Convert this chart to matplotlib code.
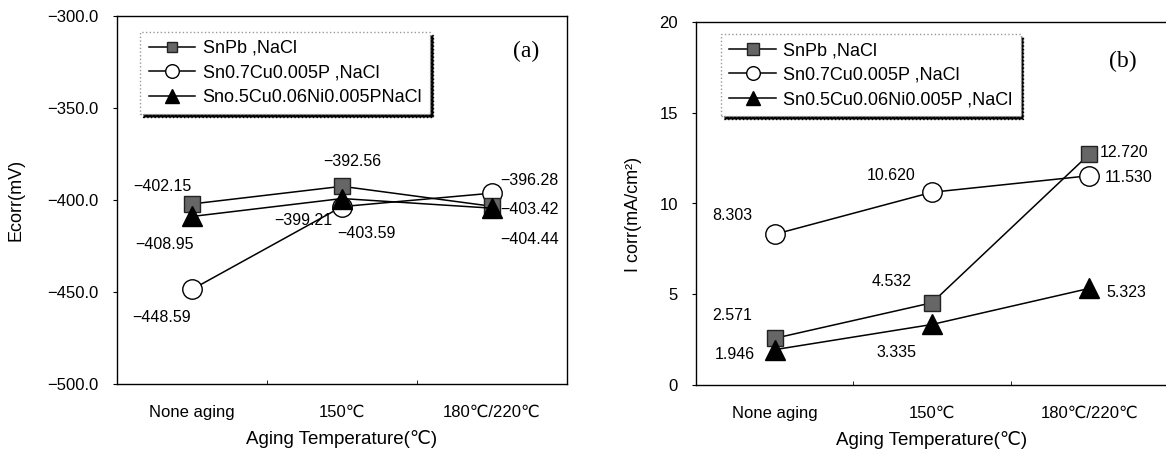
import numpy as np
import matplotlib.pyplot as plt

plt.rcParams['font.family'] = ['Liberation Sans', 'DejaVu Sans']
plt.rcParams['xtick.direction'] = 'out'
plt.rcParams['ytick.direction'] = 'out'

# data
categories = ['None aging', '150℃', '180℃/220℃']
ecorr_snpb = [-402.15, -392.56, -403.42]
ecorr_sncup = [-448.59, -403.59, -396.28]
ecorr_sncunip = [-408.95, -399.21, -404.44]
icorr_snpb = [2.571, 4.532, 12.720]
icorr_sncup = [8.303, 10.620, 11.530]
icorr_sncunip = [1.946, 3.335, 5.323]

names_a = ['SnPb ,NaCl', 'Sn0.7Cu0.005P ,NaCl', 'Sno.5Cu0.06Ni0.005PNaCl']
names_b = ['SnPb ,NaCl', 'Sn0.7Cu0.005P ,NaCl', 'Sn0.5Cu0.06Ni0.005P ,NaCl']

# label offsets in pixels (dx, dy, ha)
offs_a = [
    [(-30, 17, 'center'), (10, 25, 'center'), (8, -3, 'left')],
    [(-30, -28, 'center'), (24, -27, 'center'), (8, 13, 'left')],
    [(-28, -28, 'center'), (-39, -22, 'center'), (8, -31, 'left')],
]
offs_b = [
    [(-42, 23, 'center'), (-40, 21, 'center'), (10, 2, 'left')],
    [(-42, 19, 'center'), (-41, 17, 'center'), (15, -2, 'left')],
    [(-40, -5, 'center'), (-36, -28, 'center'), (17, -4, 'left')],
]

styles = [
    dict(marker='s', mfc='#666666', mec='#222222', zorder=3),
    dict(marker='o', mfc='white', mec='black', zorder=2),
    dict(marker='^', mfc='black', mec='black', zorder=4),
]

fig = plt.figure(figsize=(11.66, 4.57), dpi=100)
W, H = 1166, 457
ax1 = fig.add_axes([117 / W, 1 - 384 / H, 450 / W, 368 / H])
ax2 = fig.add_axes([696 / W, 1 - 385 / H, 472 / W, 363 / H])

x = np.arange(len(categories))


def setup(ax):
    ax.set_xlim(-0.5, 2.5)
    ax.set_xticks(x)
    ax.set_xticklabels(categories, fontsize=12)
    ax.set_xticks([0.5, 1.5], minor=True)
    ax.tick_params(axis='x', which='major', length=0, pad=15)
    ax.tick_params(axis='x', which='minor', length=3, direction='in')
    ax.tick_params(axis='y', length=3, labelsize=12, pad=10)
    for s in ax.spines.values():
        s.set_linewidth(1.0)
    ax.set_xlabel('Aging Temperature(℃)', fontsize=13.5, labelpad=7)


def legend(ax, anchor):
    leg = ax.legend(loc='upper left', bbox_to_anchor=anchor, borderaxespad=0,
                    fontsize=13, markerscale=0.7, handlelength=2.6, handletextpad=0.4,
                    labelspacing=0.42, borderpad=0.45,
                    fancybox=False, edgecolor='#999999', framealpha=1,
                    shadow={'facecolor': 'black', 'edgecolor': 'black', 'alpha': 1})
    leg.get_frame().set_linestyle(':')
    return leg


# (a)
sizes_a = [11, 14, 14]
for vals, name, st, ms, offs in zip([ecorr_snpb, ecorr_sncup, ecorr_sncunip],
                                    names_a, styles, sizes_a, offs_a):
    ax1.plot(x, vals, color='black', lw=1.1, ms=ms, mew=1.0, label=name, **st)
    for xi, v, (dx, dy, ha) in zip(x, vals, offs):
        ax1.annotate(f'{v:.2f}'.replace('-', '−'), (xi, v), xytext=(dx, dy),
                     textcoords='offset pixels', ha=ha, va='center', fontsize=11.5)
setup(ax1)
ax1.set_ylim(-500, -300)
ax1.set_yticks([-500, -450, -400, -350, -300])
ax1.set_yticklabels([f'{t:.1f}'.replace('-', '−') for t in [-500, -450, -400, -350, -300]])
ax1.set_ylabel('Ecorr(mV)', fontsize=13)
ax1.yaxis.set_label_coords(-0.205, 0.5)
ax1.text(0.91, 0.905, '(a)', transform=ax1.transAxes, family='Liberation Serif',
         fontsize=17, ha='center', va='center')
legend(ax1, (0.052, 0.957))

# (b)
sizes_b = [12, 14, 15]
for vals, name, st, ms, offs in zip([icorr_snpb, icorr_sncup, icorr_sncunip],
                                    names_b, styles, sizes_b, offs_b):
    ax2.plot(x, vals, color='black', lw=1.1, ms=ms, mew=1.0, label=name, **st)
    for xi, v, (dx, dy, ha) in zip(x, vals, offs):
        ax2.annotate(f'{v:.3f}', (xi, v), xytext=(dx, dy),
                     textcoords='offset pixels', ha=ha, va='center', fontsize=11.5)
setup(ax2)
ax2.spines['right'].set_visible(False)
ax2.set_ylim(0, 20)
ax2.set_yticks([0, 5, 10, 15, 20])
ax2.set_ylabel('I corr(mA/cm²)', fontsize=13)
ax2.yaxis.set_label_coords(-0.115, 0.47)
ax2.text(0.905, 0.89, '(b)', transform=ax2.transAxes, family='Liberation Serif',
         fontsize=17, ha='center', va='center')
legend(ax2, (0.053, 0.967))

plt.savefig('out.png', dpi=100)
